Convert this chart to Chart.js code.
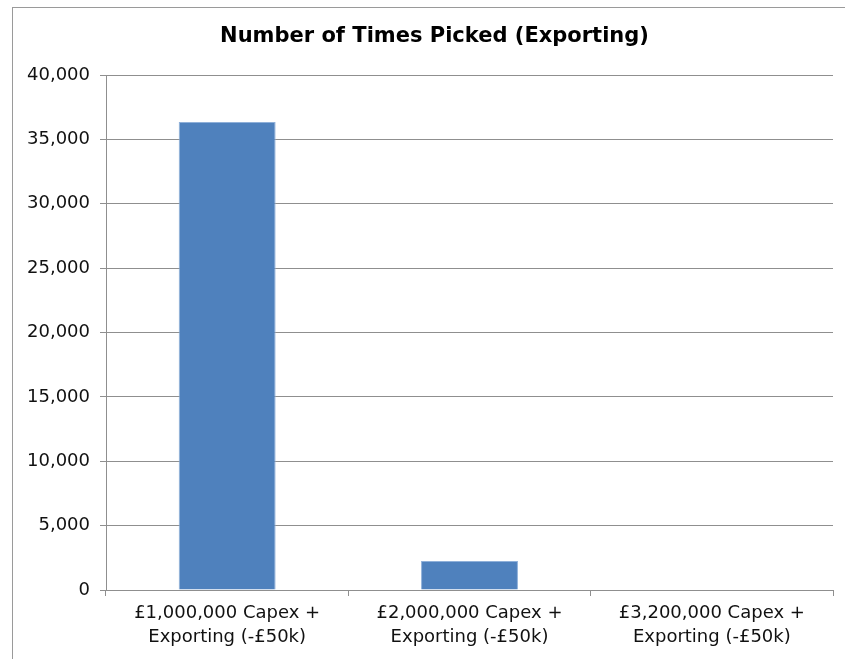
<!DOCTYPE html>
<html>
<head>
<meta charset="utf-8">
<title>Number of Times Picked (Exporting)</title>
<script src="https://cdn.jsdelivr.net/npm/chart.js@4"></script>
<style>
  html, body { margin: 0; padding: 0; background: #fff; }
  #frame {
    position: absolute; left: 12px; top: 7px; width: 900px; height: 700px;
    border-left: 1px solid #9a9a9a; border-top: 1px solid #9a9a9a;
  }
  #chart { position: absolute; left: 0; top: 0; }
</style>
</head>
<body>
<div id="frame"></div>
<canvas id="chart" width="845" height="659"></canvas>
<script>
// --- data ---
const categories = [
  ['£1,000,000 Capex +', 'Exporting (-£50k)'],
  ['£2,000,000 Capex +', 'Exporting (-£50k)'],
  ['£3,200,000 Capex +', 'Exporting (-£50k)']
];
const timesPicked = [36350, 2250, 0];
const yTicks = [0, 5000, 10000, 15000, 20000, 25000, 30000, 35000, 40000];

const FONT = 'DejaVu Sans';
const GRID = '#8f8f8f';

// nudge the title box so its centre sits where the original has it
const titleShift = {
  id: 'titleShift',
  afterLayout(chart) {
    if (chart.titleBlock) chart.titleBlock.left += 36;
  }
};

new Chart(document.getElementById('chart'), {
  type: 'bar',
  data: {
    labels: categories,
    datasets: [{
      label: 'Number of Times Picked',
      data: timesPicked,
      backgroundColor: '#4f81bd',
      borderColor: '#8fb0d9',
      borderWidth: 1,
      categoryPercentage: 0.4,
      barPercentage: 1
    }]
  },
  plugins: [titleShift],
  options: {
    responsive: false,
    animation: false,
    layout: { padding: { left: 0, right: 12, top: 0, bottom: 0 } },
    plugins: {
      legend: { display: false },
      tooltip: { enabled: false },
      title: {
        display: true,
        text: 'Number of Times Picked (Exporting)',
        color: '#000',
        font: { family: FONT, size: 21, weight: 'bold', lineHeight: '25px' },
        padding: { top: 24, bottom: 26 }
      }
    },
    scales: {
      x: {
        grid: {
          offset: true,
          drawOnChartArea: false,
          drawTicks: true,
          tickLength: 6,
          color: GRID
        },
        border: { color: GRID, width: 1 },
        ticks: {
          color: '#111',
          font: { family: FONT, size: 18, lineHeight: 1.3 },
          padding: 6,
          maxRotation: 0
        },
        afterFit: (scale) => { scale.height = 69; }
      },
      y: {
        min: 0,
        max: 40000,
        afterBuildTicks: (scale) => {
          scale.ticks = yTicks.map(v => ({ value: v }));
        },
        grid: { color: GRID, tickLength: 6 },
        border: { color: GRID, width: 1 },
        ticks: {
          color: '#111',
          font: { family: FONT, size: 18 },
          padding: 10,
          callback: (v) => v.toLocaleString('en-GB')
        },
        afterFit: (scale) => { scale.width = 106; }
      }
    }
  }
});
</script>
</body>
</html>
